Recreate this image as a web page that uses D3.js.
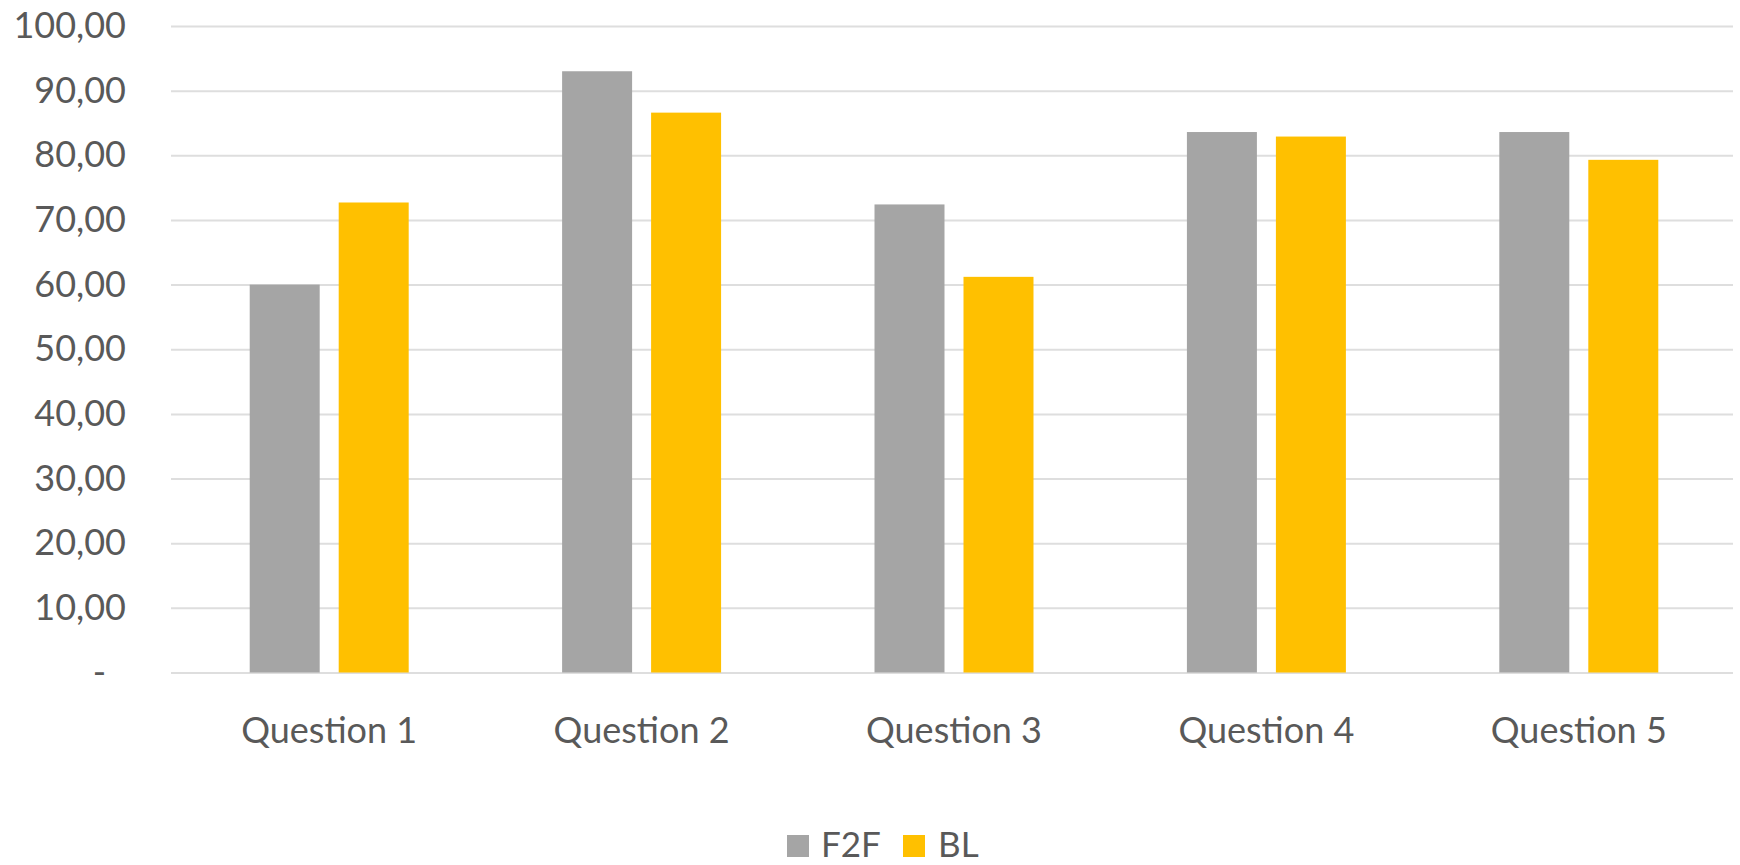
<!DOCTYPE html>
<html>
<head>
<meta charset="utf-8">
<script src="https://cdn.jsdelivr.net/npm/d3@7"></script>
<style>
  html, body { margin: 0; padding: 0; background: #ffffff; }
  svg { display: block; }
  text { font-family: Lato, "Open Sans", sans-serif; fill: #595959; }
</style>
</head>
<body>
<svg id="chart" width="1740" height="865"></svg>
<script>
const categories = ["Question 1", "Question 2", "Question 3", "Question 4", "Question 5"];
const seriesNames = ["F2F", "BL"];
const f2fValues = [60.0, 93.0, 72.4, 83.6, 83.6];
const blValues = [72.7, 86.6, 61.2, 82.9, 79.3];
const yTicks = [0, 10, 20, 30, 40, 50, 60, 70, 80, 90, 100];
const colors = ["#a5a5a5", "#ffc000"];

(function () {
const seriesValues = [f2fValues, blValues];
const data = categories.map((c, i) => ({
  category: c,
  values: seriesNames.map((s, j) => ({ series: s, value: seriesValues[j][i] }))
}));

const svg = d3.select("#chart");
const mLeft = 171, mRight = 1733, mTop = 26, mBottom = 672.5;

const x0 = d3.scaleBand().domain(categories).range([mLeft + 2, mRight + 2]).paddingInner(0).paddingOuter(0);
const x1 = d3.scaleBand().domain(seriesNames).range([0, x0.bandwidth()])
  .paddingInner(19 / 89).paddingOuter(0.862);
const y = d3.scaleLinear().domain([0, 100]).range([mBottom, mTop]);
const color = d3.scaleOrdinal().domain(seriesNames).range(colors);

const locale = d3.formatLocale({ decimal: ",", thousands: ".", grouping: [3], currency: ["", ""] });
const fmt = locale.format(".2f");

// Y axis with gridlines
const yAxis = d3.axisLeft(y)
  .tickValues(yTicks)
  .tickSize(-(mRight - mLeft))
  .tickPadding(45)
  .tickFormat(d => d === 0 ? "-" : fmt(d));

const gy = svg.append("g").attr("transform", `translate(${mLeft},0)`).call(yAxis);
gy.select(".domain").remove();
gy.selectAll(".tick line").attr("stroke", "#dedede").attr("stroke-width", 2);
gy.selectAll(".tick text")
  .style("font-size", "36px")
  .attr("fill", "#595959")
  .attr("dx", d => d === 0 ? -20 : 0);

// Bars
const groups = svg.append("g").selectAll("g")
  .data(data).join("g")
  .attr("transform", d => `translate(${x0(d.category)},0)`);

groups.selectAll("rect")
  .data(d => d.values).join("rect")
  .attr("x", d => x1(d.series))
  .attr("width", x1.bandwidth())
  .attr("y", d => y(d.value))
  .attr("height", d => y(0) - y(d.value))
  .attr("fill", d => color(d.series));

// X axis labels
const xAxis = d3.axisBottom(x0).tickSize(0).tickPadding(0);
const gx = svg.append("g").attr("transform", `translate(0,${mBottom})`).call(xAxis);
gx.select(".domain").remove();
gx.selectAll(".tick text")
  .style("font-size", "36px")
  .attr("fill", "#595959")
  .attr("dy", null)
  .attr("y", 70);

// Legend
const legendItems = [
  { name: seriesNames[0], sx: 787, tx: 821 },
  { name: seriesNames[1], sx: 903, tx: 938 }
];
const lg = svg.append("g");
lg.selectAll("rect").data(legendItems).join("rect")
  .attr("x", d => d.sx).attr("y", 835).attr("width", 22).attr("height", 22)
  .attr("fill", d => color(d.name));
lg.selectAll("text").data(legendItems).join("text")
  .attr("x", d => d.tx).attr("y", 857)
  .style("font-size", "35px")
  .text(d => d.name);
})();
</script>
</body>
</html>
